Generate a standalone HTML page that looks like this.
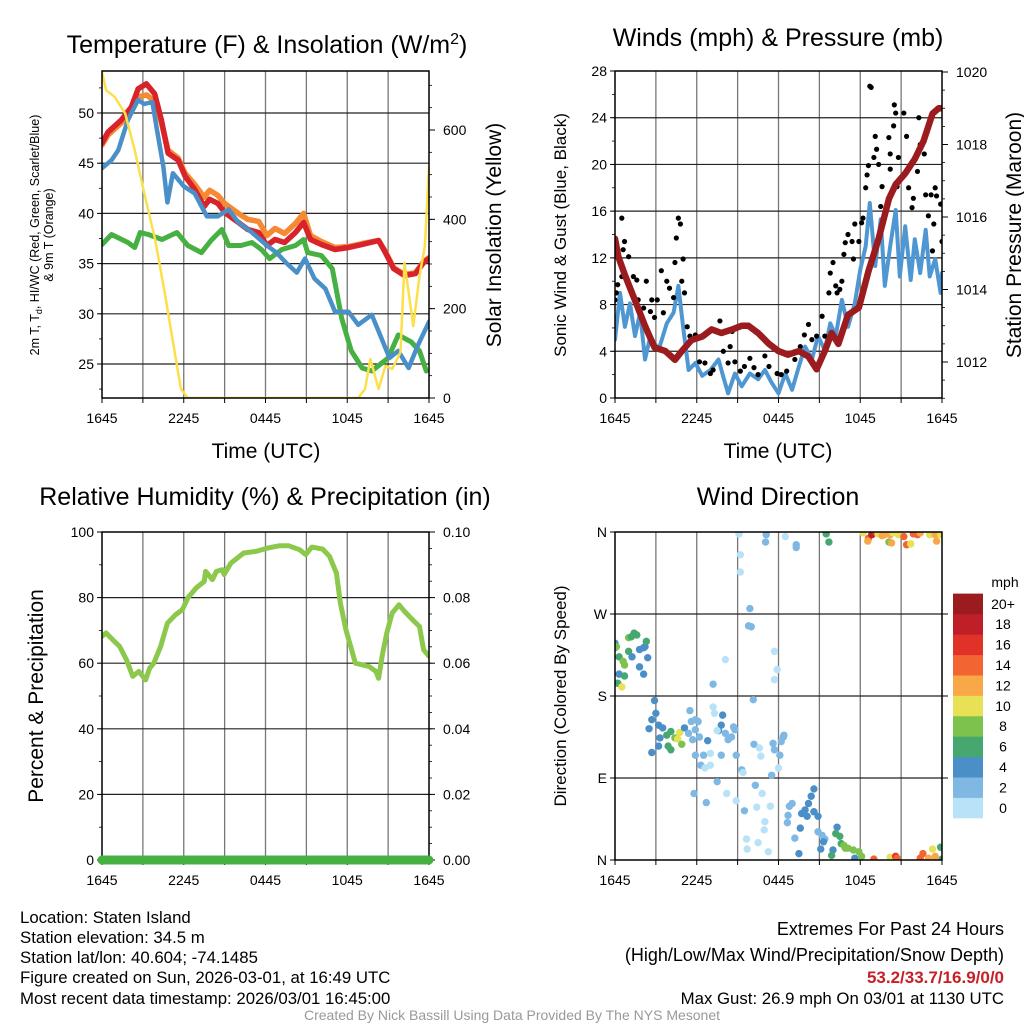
<!DOCTYPE html>
<html><head><meta charset="utf-8"><style>
html,body{margin:0;padding:0;background:#fff;}
svg{display:block;font-family:"Liberation Sans",Arial,sans-serif;}
</style></head><body>
<svg id="root" width="1024" height="1024" viewBox="0 0 1024 1024" xmlns="http://www.w3.org/2000/svg">
<rect x="0" y="0" width="1024" height="1024" fill="#fff"/>
<g id="layer"></g>
<g id="texts" font-size="15" fill="#000">
<text x="267" y="53" font-size="25" text-anchor="middle">Temperature (F) &amp; Insolation (W/m<tspan dy="-9" font-size="16">2</tspan><tspan dy="9">)</tspan></text>
<text x="778" y="46" font-size="25" text-anchor="middle">Winds (mph) &amp; Pressure (mb)</text>
<text x="265" y="505" font-size="25" text-anchor="middle">Relative Humidity (%) &amp; Precipitation (in)</text>
<text x="778" y="505" font-size="25" text-anchor="middle">Wind Direction</text>
<text transform="translate(39,235) rotate(-90)" font-size="12.5" text-anchor="middle">2m T, T<tspan dy="3" font-size="9">d</tspan><tspan dy="-3">, HI/WC (Red, Green, Scarlet/Blue)</tspan></text>
<text transform="translate(53,235) rotate(-90)" font-size="12.5" text-anchor="middle">&amp; 9m T (Orange)</text>
<text transform="translate(501,235) rotate(-90)" font-size="21" text-anchor="middle">Solar Insolation (Yellow)</text>
<text x="266" y="458" font-size="21" text-anchor="middle">Time (UTC)</text>
<text x="778" y="458" font-size="21" text-anchor="middle">Time (UTC)</text>
<text transform="translate(566,235) rotate(-90)" font-size="17" text-anchor="middle">Sonic Wind &amp; Gust (Blue, Black)</text>
<text transform="translate(1021,235) rotate(-90)" font-size="21" text-anchor="middle">Station Pressure (Maroon)</text>
<text transform="translate(43,696) rotate(-90)" font-size="21" text-anchor="middle">Percent &amp; Precipitation</text>
<text transform="translate(566,696) rotate(-90)" font-size="17" text-anchor="middle">Direction (Colored By Speed)</text>
<g font-size="16.8">
<text x="20" y="923">Location: Staten Island</text>
<text x="20" y="943">Station elevation: 34.5 m</text>
<text x="20" y="963">Station lat/lon: 40.604; -74.1485</text>
<text x="20" y="983">Figure created on Sun, 2026-03-01, at 16:49 UTC</text>
<text x="20" y="1004">Most recent data timestamp: 2026/03/01 16:45:00</text>
</g>
<text x="1004" y="935" text-anchor="end" font-size="18">Extremes For Past 24 Hours</text>
<text x="1004" y="961" text-anchor="end" font-size="18">(High/Low/Max Wind/Precipitation/Snow Depth)</text>
<text x="1004" y="983" text-anchor="end" font-size="17" font-weight="bold" fill="#c62026">53.2/33.7/16.9/0/0</text>
<text x="1004" y="1004" text-anchor="end" font-size="16.8">Max Gust: 26.9 mph On 03/01 at 1130 UTC</text>
<text x="512" y="1020" text-anchor="middle" font-size="14" fill="#999">Created By Nick Bassill Using Data Provided By The NYS Mesonet</text>
<text x="1005" y="587" font-size="14" text-anchor="middle">mph</text>
</g>
</svg>
<script>
// ---------- DATA ----------
const timeTicks = ["1645","2245","0445","1045","1645"];
const tempTickLabels = [25,30,35,40,45,50];
const solarTickLabels = [0,200,400,600];
const windTickLabels = [0,4,8,12,16,20,24,28];
const pressTickLabels = [1012,1014,1016,1018,1020];
const rhTickLabels = [0,20,40,60,80,100];
const precipTickLabels = ["0.00","0.02","0.04","0.06","0.08","0.10"];
const dirTickLabels = ["N","E","S","W","N"];
const speedBins = ["0","2","4","6","8","10","12","14","16","18","20+"];
const speedColors = ["#b8e2f7","#7fb8e3","#4a8fc7","#46a86e","#7cc24c","#e8e055","#f9a848","#f26430","#e13229","#bf1f26","#9b1b1e"];

const tempHours = [0,0.44,1.42,2.16,2.65,3.26,3.87,4.36,4.85,5.6,6.1,6.8,7.5,7.9,8.5,9.0,10.0,10.7,11.5,12.1,12.7,13.4,14.2,14.8,15.3,16.1,17.1,18.1,19.1,20.3,20.8,21.4,22.2,23.0,23.6,24];
const tempValues = [47.0,48.1,49.3,50.6,52.4,52.9,51.9,49.3,46.0,45.3,43.7,42.4,40.7,41.4,41.0,40.1,39.1,38.4,38.1,36.8,37.4,37.1,38.1,39.1,37.4,36.9,36.4,36.6,36.9,37.3,36.1,34.5,33.8,34.0,35.1,35.5];
const temp9mValues = [46.8,47.8,49.0,50.3,51.6,51.8,51.2,49.0,46.3,45.5,44.0,42.9,41.6,42.3,41.8,41.0,40.0,39.4,39.2,37.8,38.5,38.0,39.0,40.0,37.8,37.2,36.6,36.7,37.0,37.3,36.2,34.6,33.9,34.1,35.2,35.6];
const chillHours = [0,0.7,1.2,1.9,2.65,3.1,3.7,4.0,4.5,4.8,5.2,6.0,6.8,7.7,8.5,9.3,10.0,11.0,12.1,12.8,13.5,14.3,14.9,15.6,16.4,17.1,18.1,18.8,19.8,20.5,21.1,21.75,22.5,23.2,24];
const chillValues = [44.5,45.3,46.3,49.3,51.3,50.9,51.1,48.6,44.7,41.1,44.0,42.7,42.0,39.7,39.7,40.4,39.1,38.1,36.8,36.1,35.1,34.1,35.5,33.5,32.5,30.2,30.2,28.9,29.9,27.6,25.6,26.3,24.6,26.9,29.2];
const dewHours = [0,0.7,1.9,2.4,2.8,3.4,4.4,5.5,6.3,7.3,8.0,8.8,9.3,10.2,11.0,11.7,12.3,13.2,14.2,14.8,15.1,16.1,16.9,17.6,18.3,19.1,19.8,21.0,21.75,22.7,23.3,23.8];
const dewValues = [36.9,37.9,37.1,36.6,38.1,37.9,37.4,38.1,36.8,36.1,37.3,38.4,36.8,36.8,37.1,36.4,35.5,36.4,36.8,37.4,36.1,35.8,34.5,29.5,26.3,24.6,24.3,25.6,27.9,27.2,26.3,24.3];
const solarHours = [0,0.3,0.93,1.7,2.4,3.1,3.9,4.6,5.3,5.8,6.3,18.8,19.3,19.7,20.3,20.8,21.3,21.9,22.2,22.85,23.3,23.7,24];
const solarValues = [730,689,674,637,555,459,355,236,109,20,0,0,20,87,20,72,65,102,303,161,273,340,518];

const pressHours = [0,0.25,0.73,1.47,2.2,2.9,3.7,4.4,4.9,5.6,6.4,7.1,7.8,8.6,9.3,9.8,10.5,11.3,12.0,12.7,13.5,14.2,14.8,15.4,15.9,16.4,17.1,17.9,18.6,19.35,20.1,20.6,21.3,22.0,22.65,23.3,23.75,24];
const pressValues = [1015.4,1014.9,1014.4,1013.7,1013.0,1012.4,1012.3,1012.06,1012.3,1012.6,1012.7,1012.9,1012.8,1012.9,1013.0,1013.0,1012.8,1012.5,1012.3,1012.2,1012.3,1012.15,1011.8,1012.3,1012.8,1012.5,1013.3,1013.5,1014.5,1015.4,1016.5,1016.9,1017.2,1017.6,1018.1,1018.85,1019.0,1019.0];
const windHours = [0,0.37,0.73,1.1,1.47,1.84,2.2,2.6,3.2,3.8,4.3,4.65,5.0,5.4,5.9,6.4,7.0,7.6,8.0,8.3,8.8,9.3,9.9,10.5,11.0,11.5,12.0,12.5,13.0,13.5,13.95,14.45,14.9,15.4,15.8,16.2,16.65,17.1,17.6,18.0,18.4,18.7,19.1,19.5,19.8,20.2,20.6,20.9,21.3,21.7,22.0,22.4,22.8,23.1,23.5,23.9,24];
const windValues = [5.0,9.0,6.1,8.1,5.3,7.3,3.3,5.3,4.1,6.4,7.3,9.6,6.1,2.4,3.0,1.9,2.4,3.3,1.6,0.4,2.1,1.0,2.1,1.6,2.4,1.3,0.4,2.1,0.7,2.7,4.4,3.3,5.3,4.1,6.4,5.3,8.4,6.1,8.1,11.0,13.0,16.7,11.3,15.3,9.6,13.0,16.1,10.4,14.7,10.1,13.6,10.7,14.4,10.4,11.9,9.0,10.7];
const gustHours = [0,0.1,0.2,0.5,0.7,0.6,1.0,0.5,1.35,1.6,1.7,2.1,2.3,2.6,2.7,2.9,3.1,3.4,3.55,3.8,4.0,4.3,4.4,4.5,4.65,4.8,4.9,5.0,5.1,5.3,5.5,5.9,6.2,6.6,7.0,7.2,7.7,7.95,8.3,8.45,8.6,8.8,9.2,9.5,9.9,10.2,10.5,11.0,11.3,11.9,12.2,12.6,13.2,13.6,13.9,14.2,14.45,14.8,15.2,15.4,15.7,15.8,16.0,16.2,16.3,16.5,16.65,16.8,16.9,17.1,17.4,17.5,17.6,17.9,18.1,18.2,18.4,18.5,18.6,18.7,18.8,19.0,19.1,19.2,19.35,19.5,19.6,20.1,20.2,20.2,20.45,20.5,20.6,20.7,20.8,21.2,21.4,21.55,21.8,21.9,22.2,22.3,22.4,22.7,22.8,23.0,23.2,23.3,23.4,23.5,23.6,23.9,24.0];
const gustValues = [8.4,9.0,9.7,15.4,13.4,12.7,12.1,10.4,10.4,10.1,8.4,7.7,10.0,7.4,8.4,6.9,8.4,10.9,7.3,10.0,9.4,8.6,11.6,13.7,15.4,14.9,10.0,11.9,9.0,6.1,5.3,5.4,3.1,3.0,2.1,2.4,6.6,4.0,3.0,4.4,5.7,3.1,2.3,2.7,3.4,2.6,2.0,3.6,2.7,2.1,2.0,2.3,3.3,4.4,5.4,6.3,5.0,5.3,7.0,5.3,9.0,10.7,11.6,9.6,9.0,9.3,10.0,12.3,13.3,14.0,13.4,11.9,14.9,13.4,15.0,15.4,18.0,19.1,19.9,26.7,26.6,20.6,22.4,21.3,20.0,16.4,18.1,22.3,20.9,19.6,23.3,25.1,24.4,18.1,20.6,24.4,22.4,18.0,16.3,17.1,19.4,24.0,21.7,20.9,17.4,15.6,17.4,12.6,14.9,18.0,17.3,16.6,13.4];

const rhHours = [0,0.3,0.8,1.3,1.8,2.25,2.7,3.2,3.5,3.8,4.3,4.8,5.4,5.9,6.3,6.9,7.5,7.6,8.1,8.4,8.85,8.96,9.45,10.4,11.3,12.15,13.0,13.7,14.5,14.95,15.4,16.2,16.7,17.2,17.5,17.9,18.25,18.6,19.6,20.1,20.3,20.6,20.9,21.3,21.8,22.2,22.8,23.3,23.6,24];
const rhValues = [68.2,69.2,67.1,65.1,61.0,56.0,57.5,54.9,58.5,60.0,65.1,72.2,74.8,76.3,79.9,82.9,84.9,88.0,85.5,88.0,88.5,87.0,90.5,93.6,94.1,95.1,95.8,95.8,94.6,93.1,95.4,94.8,92.6,87.5,78.3,70.2,65.1,60.0,59.0,57.5,55.4,63.1,69.2,75.3,77.8,75.8,73.2,71.2,64.1,62.1];
const precipHours = [0,24];
const precipValues = [0,0];

const dirHours = [0,0,0.1,0.3,0.6,0.7,1.0,1.2,1.4,1.6,1.0,1.25,1.8,2.1,2.2,2.3,2.4,1.8,2.1,0.3,0.7,0.2,0.5,
2.9,3.0,2.7,2.5,3.2,3.5,3.3,3.2,2.7,3.8,4.1,4.4,4.75,4.6,4.9,3.9,4.1,5.1,5.5,5.6,5.9,6.1,5.4,5.9,6.2,5.7,5.9,6.5,6.3,6.6,7.0,6.8,7.0,7.2,7.3,7.2,7.9,7.8,7.6,7.8,7.5,8.1,8.3,8.55,8.7,8.8,8.9,8.1,7.5,5.8,6.7,8.2,8.9,9.3,9.4,10.15,10.2,10.6,10.7,10.3,10.8,11.4,9.5,10.4,11.0,10.95,9.65,10.5,11.25,9.7,11.5,11.6,11.7,12.1,12.0,12.2,12.35,12.4,11.7,11.9,11.7,9.9,10.0,9.8,9.1,9.2,9.2,11.1,11.05,12.5,13.3,13.3,
14.6,14.4,14.2,13.95,13.7,14.1,14.6,14.9,13.0,12.8,12.7,12.65,13.6,13.2,13.5,14.9,15.2,15.4,15.3,15.1,16.0,15.9,16.3,16.2,16.5,16.6,16.9,17.1,17.5,17.9,18.1,17.6,16.8,19.0,20.2,20.6,20.7,22.4,22.6,23.0,23.3,23.5,23.9,24.0,
15.5,15.7,18.2,18.6,18.85,19.1,19.3,19.6,19.8,20.1,20.2,20.3,20.4,20.8,21.2,21.4,21.7,21.9,22.2,22.4,23.1,23.5,23.6,23.9,24.0,18.55];
const dirDegrees = [238,233,234,223,218,214,244,245,249,247,229,223,231,233,234,240,222,212,204,204,202,194,190,
175,161,154,144,148,145,134,125,118,137,141,134,140,133,127,125,121,145,164,152,154,152,139,143,135,132,115,115,104,101,104,131,117,168,161,193,159,148,142,115,142,139,132,135,146,143,115,220,86,73,63,73,65,99,96,176,127,123,114,82,73,59,54,58,42,33,23,19,9,12,93,128,121,115,101,130,135,137,229,209,198,276,256,257,358,335,316,357,349,355,346,343,
78,70,62,55,51,48,53,48,62,59,49,41,35,24,7,31,27,23,20,12,11,5,36,29,26,18,13,13,11,9,4,2,16,1,3,4,2,2,7,2,12,4,14,1,
358,349,359,353,357,360,358,356,357,349,357,348,359,357,355,346,347,358,357,359,357,357,350,357,359,350];
const dirSpeeds = [4,4,8,6,8,8,8,6,6,6,6,4,4,4,4,6,4,4,4,4,6,6,10,
4,4,4,4,4,4,4,4,4,6,6,8,10,10,8,6,6,4,2,2,2,2,2,2,2,2,2,2,2,0,0,4,0,0,0,2,4,4,4,2,1,2,2,2,2,2,2,0,2,2,2,0,0,2,0,2,2,0,0,2,0,0,2,0,0,0,0,0,0,0,2,2,2,2,0,2,2,2,0,0,0,2,2,2,0,0,0,2,2,0,2,2,
4,4,4,4,4,4,4,4,2,2,2,2,4,2,4,2,2,2,4,4,4,6,4,6,6,6,8,8,8,8,8,4,8,14,10,16,14,14,14,12,10,12,6,6,
6,6,10,14,18,16,10,12,12,8,12,12,10,10,14,14,10,14,14,12,10,12,12,10,10,12];

// ---------- HELPERS ----------
const NS = "http://www.w3.org/2000/svg";
const layer = document.getElementById("layer");
function mk(tag, attrs, parent) {
  const e = document.createElementNS(NS, tag);
  for (const k in attrs) e.setAttribute(k, attrs[k]);
  (parent || layer).appendChild(e);
  return e;
}
function lin(d0, d1, r0, r1) { return v => r0 + (v - d0) * (r1 - r0) / (d1 - d0); }

function panel(id, x0, x1, y0, y1) {
  const g = mk("g", {});
  
  
  const clipId = id + "-clip";
  const cp = mk("clipPath", {id: clipId}, g);
  mk("rect", {x: x0, y: y0, width: x1 - x0, height: y1 - y0}, cp);
  const grid = mk("g", {}, g);
  
  
  const plot = mk("g", {"clip-path": "url(#" + clipId + ")"}, g);
  
  
  const top = mk("g", {}, g);
  return {g, grid, plot, top, x0, x1, y0, y1, xs: lin(0, 24, x0, x1)};
}
function frame(p) {
  const r = mk("rect", {x: p.x0, y: p.y0, width: p.x1 - p.x0, height: p.y1 - p.y0, fill: "none", stroke: "#000", "stroke-width": 1.5}, p.top);
  
  
}
function timeAxis(p) {
  for (let h = 0; h <= 24; h += 3) {
    const x = p.xs(h);
    if (h > 0 && h < 24) {
      const l = mk("line", {x1: x, x2: x, y1: p.y0, y2: p.y1, stroke: "#777", "stroke-width": 1.3}, p.grid);
      
      
    }
    const t = mk("line", {x1: x, x2: x, y1: p.y1, y2: p.y1 + 5, stroke: "#000", "stroke-width": 1}, p.top);
    
    
  }
  timeTicks.forEach((lab, i) => {
    const tx = mk("text", {x: p.xs(i * 6), y: p.y1 + 25, "font-size": 14, "text-anchor": "middle"}, p.top);
    
    
    tx.textContent = lab;
  });
}
function leftAxis(p, ys, vals, labels, gridOn, minorStep, lo, hi) {
  vals.forEach((v, i) => {
    const y = ys(v);
    if (gridOn && y > p.y0 + 1 && y < p.y1 - 1) {
      const l = mk("line", {x1: p.x0, x2: p.x1, y1: y, y2: y, stroke: "#222", "stroke-width": 1.2}, p.grid);
      
      
    }
    const t = mk("line", {x1: p.x0 - 5, x2: p.x0, y1: y, y2: y, stroke: "#000"}, p.top);
    
    
    const tx = mk("text", {x: p.x0 - 8, y: y + 5, "font-size": 14, "text-anchor": "end"}, p.top);
    
    
    tx.textContent = labels[i];
  });
  if (minorStep) for (let v = lo; v <= hi; v += minorStep) {
    const y = ys(v);
    if (y < p.y0 || y > p.y1) continue;
    const t = mk("line", {x1: p.x0 - 3, x2: p.x0, y1: y, y2: y, stroke: "#000", "stroke-width": 0.8}, p.top);
    
    
  }
}
function rightAxis(p, ys, vals, labels, minorStep, lo, hi) {
  vals.forEach((v, i) => {
    const y = ys(v);
    const t = mk("line", {x1: p.x1, x2: p.x1 + 6, y1: y, y2: y, stroke: "#000"}, p.top);
    
    
    const tx = mk("text", {x: p.x1 + 14, y: y + 5, "font-size": 14}, p.top);
    
    
    tx.textContent = labels[i];
  });
  if (minorStep) for (let v = lo; v <= hi + 1e-9; v += minorStep) {
    const y = ys(v);
    if (y < p.y0 - 0.5 || y > p.y1 + 0.5) continue;
    const t = mk("line", {x1: p.x1, x2: p.x1 + 3, y1: y, y2: y, stroke: "#000", "stroke-width": 0.8}, p.top);
    
    
  }
}
function line(p, xs, ys, hours, vals, color, w, name) {
  const d = hours.map((h, i) => (i ? "L" : "M") + xs(h).toFixed(1) + "," + ys(vals[i]).toFixed(1)).join("");
  const path = mk("path", {d, fill: "none", stroke: color, "stroke-width": w, "stroke-linejoin": "round", "stroke-linecap": "round"}, p.plot);
  
  
  return path;
}

// ---------- TEMPERATURE PANEL ----------
{
  const p = panel("temperature", 102, 429, 71, 398);
  const ys = lin(50, 25, 113, 364);
  const ss = lin(0, 600, 398, 130);
  timeAxis(p);
  leftAxis(p, ys, tempTickLabels, tempTickLabels, true, 2.5, 20, 55);
  rightAxis(p, ss, solarTickLabels, solarTickLabels, 50, 0, 750);
  line(p, p.xs, ys, tempHours, temp9mValues, "#f58a33", 5.5, "temp-9m-line");
  line(p, p.xs, ys, dewHours, dewValues, "#46b043", 5, "dewpoint-line");
  line(p, p.xs, ys, tempHours, tempValues, "#d8232a", 5.5, "temperature-line");
  line(p, p.xs, ys, chillHours, chillValues, "#4a90c8", 4.5, "wind-chill-line");
  line(p, p.xs, ss, solarHours, solarValues, "#fce04a", 2.5, "solar-line");
  frame(p);
}
// ---------- WIND PANEL ----------
{
  const p = panel("winds", 615, 942, 71, 398);
  const ys = lin(0, 28, 398, 71);
  const ps = lin(1012, 1020, 362, 72);
  timeAxis(p);
  leftAxis(p, ys, windTickLabels, windTickLabels, true, 2, 0, 28);
  rightAxis(p, ps, pressTickLabels, pressTickLabels, 0.5, 1011, 1020);
  line(p, p.xs, ys, windHours, windValues, "#4f97d2", 4, "sonic-wind-line");
  gustHours.forEach((h, i) => {
    const c = mk("circle", {cx: p.xs(h), cy: ys(gustValues[i]), r: 2.6, fill: "#000"}, p.plot);
    
    
  });
  line(p, p.xs, ps, pressHours, pressValues, "#9b1b1e", 6.5, "pressure-line");
  frame(p);
}
// ---------- HUMIDITY PANEL ----------
{
  const p = panel("humidity", 102, 429, 532, 860);
  const ys = lin(0, 100, 860, 532);
  const qs = lin(0, 0.1, 860, 532);
  timeAxis(p);
  leftAxis(p, ys, rhTickLabels, rhTickLabels, true, 10, 0, 100);
  rightAxis(p, qs, [0,0.02,0.04,0.06,0.08,0.1], precipTickLabels, 0.005, 0, 0.1);
  line(p, p.xs, ys, rhHours, rhValues, "#8cc84b", 5, "humidity-line");
  frame(p);
  line({plot: p.top}, p.xs, qs, precipHours, precipValues, "#46b043", 9, "precipitation-line");
}
// ---------- WIND DIRECTION PANEL ----------
{
  const p = panel("wind-direction", 615, 942, 532, 860);
  const ys = lin(0, 360, 860, 532);
  timeAxis(p);
  leftAxis(p, ys, [0, 90, 180, 270, 360], dirTickLabels, true, 0, 0, 0);
  rightAxis(p, ys, [90, 180, 270], ["", "", ""], 0, 0, 0);
  dirHours.forEach((h, i) => {
    const bin = Math.min(10, Math.floor(dirSpeeds[i] / 2));
    const c = mk("circle", {cx: p.xs(h), cy: ys(dirDegrees[i]), r: 3.7, fill: speedColors[bin]}, p.plot);
    
    
  });
  frame(p);
  const cb = mk("g", {});
  
  
  const bh = 20.4;
  speedBins.forEach((lab, i) => {
    const y = 818 - (i + 1) * bh;
    const r = mk("rect", {x: 953, y: y, width: 30, height: bh + 0.3, fill: speedColors[i]}, cb);
    
    
    const t = mk("text", {x: 1003, y: y + bh / 2 + 5, "font-size": 14, "text-anchor": "middle"}, cb);
    
    
    t.textContent = lab;
  });
}
</script>
</body></html>
